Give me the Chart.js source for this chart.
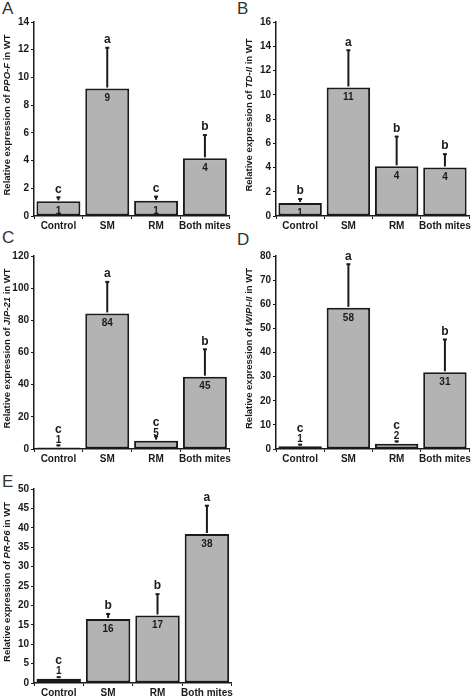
<!DOCTYPE html>
<html><head><meta charset="utf-8">
<script src="https://cdn.jsdelivr.net/npm/chart.js@4"></script>
<style>
body{margin:0;width:472px;height:697px;position:relative;background:#fff;overflow:hidden;font-family:"Liberation Sans",Arial,sans-serif}
canvas{position:absolute}
.pl{position:absolute;font-size:17px;color:#333;line-height:1;font-family:"Liberation Sans",Arial,sans-serif}
</style></head><body>
<div class="pl" style="left:2px;top:0px">A</div>
<div class="pl" style="left:237px;top:0px">B</div>
<div class="pl" style="left:2px;top:229px">C</div>
<div class="pl" style="left:237px;top:231px">D</div>
<div class="pl" style="left:2px;top:473px">E</div>
<script>
const categories = ['Control', 'SM', 'RM', 'Both mites'];

const geneA = 'PPO-F';
const meansA = [1.06, 9.2, 1.1, 4.16];
const errsA = [0.29, 2.94, 0.3, 1.68];
const labelsA = ['1', '9', '1', '4'];
const lettersA = ['c', 'a', 'c', 'b'];
const ticksA = {max: 14, step: 2};

const geneB = 'TD-II';
const meansB = [1.07, 10.6, 4.1, 4.0];
const errsB = [0.33, 3.07, 2.45, 1.1];
const labelsB = ['1', '11', '4', '4'];
const lettersB = ['b', 'a', 'b', 'b'];
const ticksB = {max: 16, step: 2};

const geneC = 'JIP-21';
const meansC = [1.0, 84.3, 5.2, 45];
const errsC = [1.3, 19.6, 2.6, 17];
const labelsC = ['1', '84', '5', '45'];
const lettersC = ['c', 'a', 'c', 'b'];
const ticksC = {max: 120, step: 20};

const geneD = 'WIPI-II';
const meansD = [1.1, 58.5, 2.2, 31.8];
const errsD = [0.7, 18.1, 1.0, 13.6];
const labelsD = ['1', '58', '2', '31'];
const lettersD = ['c', 'a', 'c', 'b'];
const ticksD = {max: 80, step: 10};

const geneE = 'PR-P6';
const meansE = [1.1, 16.5, 17.4, 38.4];
const errsE = [0.4, 1.3, 5.5, 7.3];
const labelsE = ['1', '16', '17', '38'];
const lettersE = ['c', 'b', 'b', 'a'];
const ticksE = {max: 50, step: 5};

const FONT = '"Liberation Sans", Arial, sans-serif';
const INK = '#1a1a1a';

function makePanel(geom, gene, means, errs, labels, letters, tk) {
  const yW = 34, padTop = 12, xH = 15, padRight = 2;
  const cv = document.createElement('canvas');
  const w = (geom.right - geom.left) + yW + padRight;
  const h = (geom.bottom - geom.top) + padTop + xH;
  cv.width = w; cv.height = h;
  cv.style.left = (geom.left - yW) + 'px';
  cv.style.top = (geom.top - padTop) + 'px';
  cv.style.width = w + 'px'; cv.style.height = h + 'px';
  document.body.appendChild(cv);

  const overlay = {
    id: 'overlay',
    afterDatasetsDraw(chart) {
      const ctx = chart.ctx;
      const meta = chart.getDatasetMeta(0);
      const ys = chart.scales.y;
      const base = ys.getPixelForValue(0);
      ctx.save();
      meta.data.forEach((bar, i) => {
        const x = bar.x, top = bar.y;
        const eTop = ys.getPixelForValue(means[i] + errs[i]);
        ctx.strokeStyle = INK; ctx.lineWidth = 2;
        ctx.beginPath(); ctx.moveTo(x, top - 1); ctx.lineTo(x, eTop); ctx.stroke();
        ctx.beginPath(); ctx.moveTo(x - 2, eTop); ctx.lineTo(x + 2, eTop); ctx.stroke();
        ctx.fillStyle = INK;
        ctx.textAlign = 'center'; ctx.textBaseline = 'middle';
        ctx.font = 'bold 10px ' + FONT;
        let labY, letY;
        if (base - top > 12) {
          labY = top + 10;
          letY = eTop - 8;
        } else {
          labY = top - 7;
          letY = Math.min(eTop - 8, labY - 11);
        }
        ctx.fillText(labels[i], x, labY);
        ctx.font = 'bold 12px ' + FONT;
        ctx.fillText(letters[i], x, letY);
      });
      ctx.restore();
    },
    afterDraw(chart) {
      const ctx = chart.ctx;
      const ca = chart.chartArea;
      const parts = [['Relative expression of ', 'bold'], [gene, 'italic bold'], [' in WT', 'bold']];
      ctx.save();
      ctx.fillStyle = INK;
      ctx.textBaseline = 'middle';
      ctx.textAlign = 'left';
      let total = 0;
      parts.forEach(p => { ctx.font = p[1] + ' 9.5px ' + FONT; p.push(ctx.measureText(p[0]).width); total += p[2]; });
      ctx.translate(7, (ca.top + ca.bottom) / 2 - 4);
      ctx.rotate(-Math.PI / 2);
      let x = -total / 2;
      parts.forEach(p => { ctx.font = p[1] + ' 9.5px ' + FONT; ctx.fillText(p[0], x, 0); x += p[2]; });
      ctx.restore();
    }
  };

  new Chart(cv, {
    type: 'bar',
    data: {
      labels: categories,
      datasets: [{
        data: means,
        backgroundColor: '#b3b3b3',
        borderColor: INK,
        borderWidth: 2,
        borderSkipped: false,
        barPercentage: 0.9,
        categoryPercentage: 1.0
      }]
    },
    options: {
      responsive: false,
      animation: false,
      devicePixelRatio: 1,
      layout: {padding: {top: padTop, right: padRight, left: 0, bottom: 0}},
      plugins: {legend: {display: false}, tooltip: {enabled: false}, title: {display: false}},
      scales: {
        x: {
          afterFit(s) { s.height = xH; },
          grid: {display: true, drawOnChartArea: false, tickLength: 3, color: INK, lineWidth: 1, offset: true},
          border: {display: true, color: INK, width: 1.5},
          ticks: {color: INK, font: {family: FONT, size: 10, weight: 'bold'}, padding: 1, maxRotation: 0, autoSkip: false}
        },
        y: {
          min: 0, max: tk.max,
          afterFit(s) { s.width = yW; },
          grid: {display: true, drawOnChartArea: false, tickLength: 3, color: INK, lineWidth: 1},
          border: {display: true, color: INK, width: 1.5},
          ticks: {stepSize: tk.step, color: INK, font: {family: FONT, size: 10, weight: 'bold'}, padding: 2}
        }
      }
    },
    plugins: [overlay]
  });
}

makePanel({left: 34, right: 230, top: 22, bottom: 216}, geneA, meansA, errsA, labelsA, lettersA, ticksA);
makePanel({left: 276, right: 470, top: 22, bottom: 216}, geneB, meansB, errsB, labelsB, lettersB, ticksB);
makePanel({left: 34, right: 230, top: 256, bottom: 449}, geneC, meansC, errsC, labelsC, lettersC, ticksC);
makePanel({left: 276, right: 470, top: 256, bottom: 449}, geneD, meansD, errsD, labelsD, lettersD, ticksD);
makePanel({left: 34, right: 232, top: 489, bottom: 683}, geneE, meansE, errsE, labelsE, lettersE, ticksE);
</script>
</body></html>
